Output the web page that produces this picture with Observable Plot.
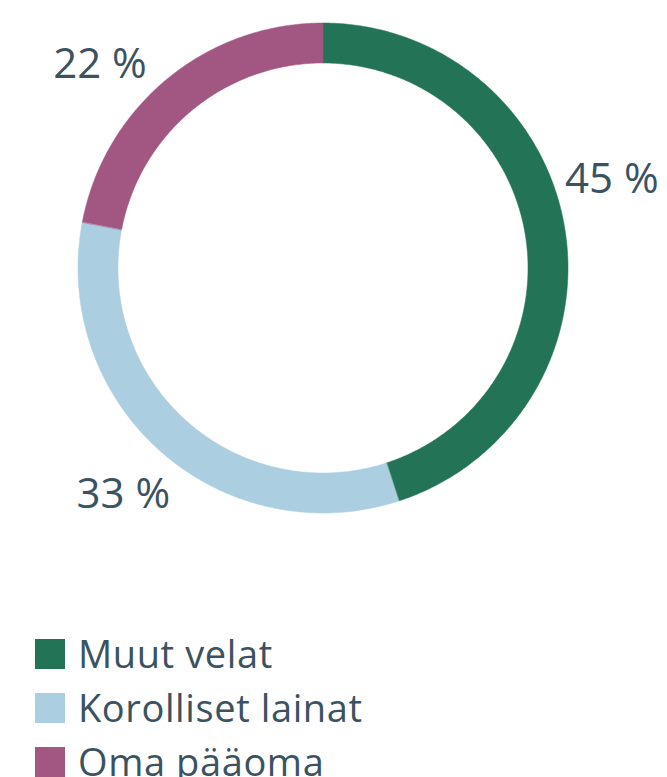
<!DOCTYPE html>
<html>
<head>
<meta charset="utf-8">
<script src="https://cdn.jsdelivr.net/npm/d3@7"></script>
<script src="https://cdn.jsdelivr.net/npm/@observablehq/plot@0.6"></script>
<style>
  html, body { margin: 0; padding: 0; background: #fff; }
  body { width: 667px; font-family: "Open Sans", sans-serif; color: #3b5360; }
  #legend { margin-left: 35px; }
  .row { display: flex; align-items: center; height: 54px; }
  .sw { width: 30px; height: 30px; margin-right: 13px; flex: none; }
  .lab { font-size: 38px; line-height: 1; letter-spacing: 0.6px; position: relative; top: -1px; }
</style>
</head>
<body>
<div id="chart"></div>
<div id="legend"></div>
<script>
const categories = ["Muut velat", "Korolliset lainat", "Oma pääoma"];
const shares = [45, 33, 22];
const labels = ["45 %", "33 %", "22 %"];
const colors = ["#237357", "#abcfe1", "#a25783"];

const W = 667, H = 627;
const cx = 322.5, cy = 267.5, rOut = 245, rIn = 205, rLab = 302;
// angular nudges (degrees) that keep labels clear of the ring, as in the original layout
const labelNudge = [-8, 0, -8];

const pie = d3.pie().sort(null).value(d => d)(shares);
const ring = [];
pie.forEach((p, i) => {
  const n = Math.max(8, Math.ceil((p.endAngle - p.startAngle) * 120));
  for (let k = 0; k <= n; k++) {
    const a = p.startAngle + (p.endAngle - p.startAngle) * k / n;
    ring.push({cat: categories[i], x: rOut * Math.sin(a), y: rOut * Math.cos(a)});
  }
  for (let k = n; k >= 0; k--) {
    const a = p.startAngle + (p.endAngle - p.startAngle) * k / n;
    ring.push({cat: categories[i], x: rIn * Math.sin(a), y: rIn * Math.cos(a)});
  }
});
const labelPts = pie.map((p, i) => {
  const a = (p.startAngle + p.endAngle) / 2 + labelNudge[i] * Math.PI / 180;
  return {text: labels[i], x: rLab * Math.sin(a), y: rLab * Math.cos(a)};
});

const chart = Plot.plot({
  width: W, height: H,
  margin: 0,
  x: {domain: [-cx, W - cx], axis: null},
  y: {domain: [-(H - cy), cy], axis: null},
  color: {domain: categories, range: colors},
  style: {fontFamily: "'Open Sans', sans-serif", background: "#fff"},
  marks: [
    Plot.line(ring, {x: "x", y: "y", z: "cat", fill: "cat", stroke: "cat", strokeWidth: 0.5, curve: "linear-closed"}),
    Plot.text(labelPts, {x: "x", y: "y", text: "text", fontSize: 42, fill: "#3b5360", textAnchor: "middle", lineAnchor: "middle"})
  ]
});
document.getElementById("chart").appendChild(chart);

const legend = document.getElementById("legend");
categories.forEach((c, i) => {
  const row = document.createElement("div");
  row.className = "row";
  const sw = document.createElement("div");
  sw.className = "sw";
  sw.style.background = colors[i];
  const t = document.createElement("span");
  t.className = "lab";
  t.textContent = c;
  row.appendChild(sw); row.appendChild(t);
  legend.appendChild(row);
});
</script>
</body>
</html>
